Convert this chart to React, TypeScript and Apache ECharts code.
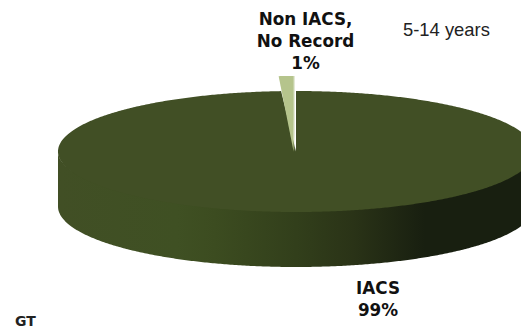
import React, { useEffect, useRef } from "react";
import * as echarts from "echarts";

const sliceNames = ["IACS", "Non IACS,\nNo Record"];
const sliceValues = [99, 1];
const sliceColors = ["#414f25", "#b5c48c"];
const subtitle = "5-14 years";
const footer = "GT";

const CX = 296, CY = 151.5, RX = 238, RY = 60.5, DEPTH = 55, LIFT_RY = 75.5, LIFT_CX = 293.6;

const Wedge = echarts.graphic.extendShape({
  shape: { cx: 0, cy: 0, rx: 0, ry: 0, a0: 0, a1: 0 },
  buildPath(ctx: any, s: any) {
    ctx.moveTo(s.cx, s.cy);
    const n = Math.max(4, Math.ceil((s.a1 - s.a0) * 2));
    for (let i = 0; i <= n; i++) {
      const a = ((s.a0 + ((s.a1 - s.a0) * i) / n) * Math.PI) / 180;
      ctx.lineTo(s.cx + s.rx * Math.sin(a), s.cy - s.ry * Math.cos(a));
    }
    ctx.closePath();
  },
});
const Wall = echarts.graphic.extendShape({
  shape: { cx: 0, cy: 0, rx: 0, ry: 0, depth: 0 },
  buildPath(ctx: any, s: any) {
    const n = 360;
    for (let i = 0; i <= n; i++) {
      const a = (i / n) * Math.PI;
      // upper arc sits a little inside the top face so no white seam shows
      const x = s.cx + s.rx * Math.cos(a), y = s.cy + (s.ry - 3) * Math.sin(a);
      if (i === 0) ctx.moveTo(x, y);
      else ctx.lineTo(x, y);
    }
    for (let i = n; i >= 0; i--) {
      const a = (i / n) * Math.PI;
      ctx.lineTo(s.cx + s.rx * Math.cos(a), s.cy + s.depth + s.ry * Math.sin(a));
    }
    ctx.closePath();
  },
});
echarts.graphic.registerShape("pieWedge", Wedge);
echarts.graphic.registerShape("pieWall", Wall);

export default function App() {
  const ref = useRef<HTMLDivElement>(null);
  useEffect(() => {
    document.body.style.margin = "0";
    const chart = echarts.init(ref.current!, undefined, { renderer: "svg" });
    const total = sliceValues.reduce((a, b) => a + b, 0);
    chart.setOption({
      animation: false,
      backgroundColor: "#ffffff",
      series: [
        {
          type: "custom",
          coordinateSystem: "none",
          silent: true,
          clip: false,
          data: sliceValues.map((v, i) => ({ value: [v], name: sliceNames[i] })),
          renderItem: (params: any, api: any) => {
            const i = params.dataIndex;
            const start = sliceValues.slice(0, i).reduce((a, b) => a + b, 0);
            const a0 = (start / total) * 360;
            const a1 = ((start + api.value(0)) / total) * 360;
            if (i === 0) {
              return {
                type: "group",
                children: [
                  {
                    type: "pieWall",
                    shape: { cx: CX, cy: CY, rx: RX, ry: RY, depth: DEPTH },
                    style: {
                      fill: new echarts.graphic.LinearGradient(0, 0, 1, 0, [
                        { offset: 0, color: "#414f25" },
                        { offset: 0.25, color: "#3f5023" },
                        { offset: 0.33, color: "#3c4c20" },
                        { offset: 0.5, color: "#323f1b" },
                        { offset: 0.62, color: "#2a3317" },
                        { offset: 0.77, color: "#181f10" },
                        { offset: 1, color: "#181f10" },
                      ]),
                    },
                  },
                  {
                    type: "pieWedge",
                    shape: { cx: CX, cy: CY, rx: RX, ry: RY, a0, a1 },
                    style: { fill: sliceColors[0] },
                  },
                ],
              };
            }
            return {
              type: "group",
              children: [
                {
                  type: "pieWedge",
                  shape: { cx: LIFT_CX + 1.4, cy: CY, rx: RX, ry: LIFT_RY, a0: a0 + 2.6, a1 },
                  style: { fill: "#e4e9d6" },
                },
                {
                  type: "pieWedge",
                  shape: { cx: LIFT_CX, cy: CY, rx: RX, ry: LIFT_RY, a0, a1 },
                  style: { fill: sliceColors[1] },
                },
              ],
            };
          },
        },
      ],
      graphic: [
        {
          type: "text", x: 305.5, y: 8,
          style: { text: `${sliceNames[1]}\n${sliceValues[1]}%`, fill: "#111", align: "center", font: "bold 16.8px 'DejaVu Sans'", lineHeight: 22 },
        },
        {
          type: "text", x: 378, y: 277,
          style: { text: `${sliceNames[0]}\n${sliceValues[0]}%`, fill: "#111", align: "center", font: "bold 16.8px 'DejaVu Sans'", lineHeight: 22 },
        },
        {
          type: "text", x: 403, y: 20,
          style: { text: subtitle, fill: "#222", font: "18.4px 'Liberation Sans'" },
        },
        {
          type: "text", x: 15, y: 314,
          style: { text: footer, fill: "#222", font: "bold 14px 'DejaVu Sans'" },
        },
      ],
    });
    return () => chart.dispose();
  }, []);
  return <div ref={ref} style={{ width: 521, height: 328 }} />;
}
